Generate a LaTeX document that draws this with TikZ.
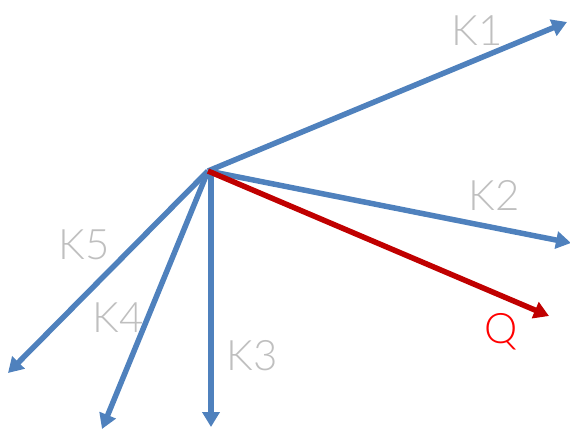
\documentclass[tikz,border=0pt]{standalone}
\usepackage{fontspec}
\setmainfont{Lato Light}
\usetikzlibrary{arrows.meta}
\definecolor{keyblue}{HTML}{4F81BD}
\definecolor{qred}{HTML}{C00000}
\definecolor{lblgray}{HTML}{BFBFBF}

\begin{document}
\begin{tikzpicture}[x=1pt, y=-1pt,
    vec/.style={line width=5.5pt, keyblue, -{Triangle[length=15pt, width=17pt]}},
    qvec/.style={vec, qred},
    lbl/.style={font=\fontsize{42}{42}\selectfont, text=lblgray, inner sep=0pt}]
  \useasboundingbox (0,0) rectangle (570,432);
  % common tail of all vectors
  \coordinate (o) at (208,171);
  % key vectors
  \foreach \name/\x/\y in {k1/567/22, k2/571/243, k3/211/427, k4/102/429, k5/8/373}{
    \coordinate (\name) at (\x,\y);
  }
  \draw[vec] (o) -- (k1);
  \draw[vec] (o) -- (k2);
  \draw[vec] (o -| k3) -- (k3);
  \draw[vec] (o) -- (k4);
  \draw[vec] (o) -- (k5);
  % query vector
  \coordinate (q) at (549,316);
  \draw[qvec] (o) -- (q);
  % labels
  \node[lbl] (lk1) at (477,31) {K1};
  \node[lbl] (lk2) at (494,195) {K2};
  \node[lbl] (lk3) at (252,356) {K3};
  \node[lbl] (lk4) at (118,318) {K4};
  \node[lbl] (lk5) at (84,245) {K5};
  \node[lbl, text=red] (lq) at (501,332) {Q};
\end{tikzpicture}
\end{document}
